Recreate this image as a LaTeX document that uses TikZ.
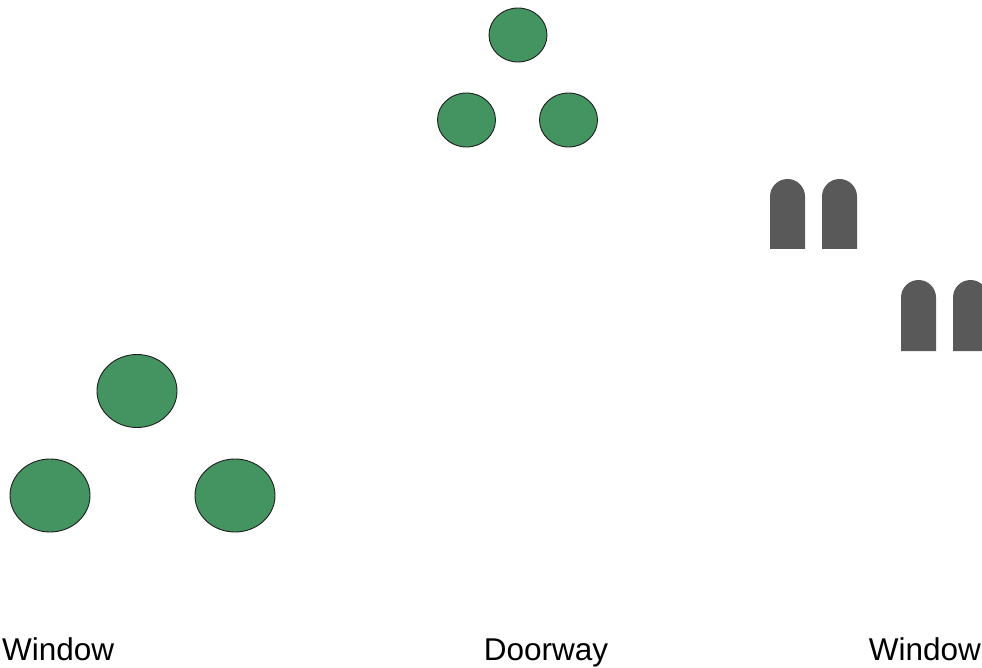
\documentclass[tikz,border=0pt]{standalone}
\usepackage{fontspec}
\setmainfont{Liberation Sans}
\usetikzlibrary{shapes.geometric}
\definecolor{leaf}{HTML}{449461}
\definecolor{slate}{HTML}{595959}
\definecolor{rim}{HTML}{1E1E1E}
\tikzset{
  bush/.style={ellipse, fill=leaf, draw=rim, line width=0.9pt, inner sep=0pt},
  smallbush/.style={bush, minimum width=58pt, minimum height=54pt},
  bigbush/.style={bush, minimum width=80pt, minimum height=73pt},
  lbl/.style={inner sep=0pt, font=\fontsize{31.5}{36}\selectfont, text=black},
  arch/.style={fill=slate}
}
\newcommand{\archshape}[3]{% left x, top y, bottom y
  \fill[arch] (#1,#3) -- (#1,#2+17.5) arc[start angle=180, end angle=0, x radius=17.5, y radius=-17.5] -- (#1+35,#3) -- cycle;
}
\begin{document}
\begin{tikzpicture}[x=1pt,y=-1pt]
\useasboundingbox (0,0) rectangle (982,668);
\fill[white] (0,0) rectangle (982,668);
% small trio
\node[smallbush] (st) at (518,35) {};
\node[smallbush] (sl) at (466.5,120) {};
\node[smallbush] (sr) at (568.5,120) {};
% big trio
\node[bigbush] (bt) at (137,391) {};
\node[bigbush] (bl) at (50,495.5) {};
\node[bigbush] (br) at (235,495.5) {};
% arches
\begin{scope}
\clip (0,0) rectangle (982,668);
\archshape{770}{179}{249}
\archshape{822}{179}{249}
\archshape{901}{280}{351}
\archshape{953}{280}{351}
\end{scope}
% labels
\node[lbl, anchor=base west] (w1) at (2,660.5) {Window};
\node[lbl, anchor=base] (dw) at (546,660.5) {Doorway};
\node[lbl, anchor=base east] (w2) at (981,660.5) {Window};
\end{tikzpicture}
\end{document}
